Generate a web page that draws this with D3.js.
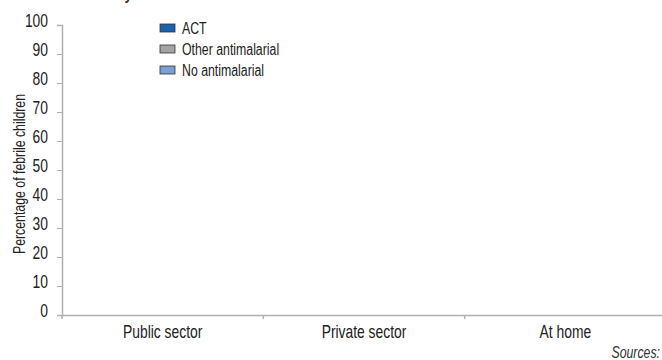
<!DOCTYPE html>
<html>
<head>
<meta charset="utf-8">
<script src="https://cdn.jsdelivr.net/npm/d3@7"></script>
<style>
  html, body { margin: 0; padding: 0; background: #fff; }
  svg { display: block; }
  text { font-family: "Liberation Sans", Arial, sans-serif; fill: #222; }
</style>
</head>
<body>
<svg id="chart" width="662" height="360"></svg>
<script>
// ---- data ----
const titleText = "Country D.R.";
const categories = ["Public sector", "Private sector", "At home"];
const seriesNames = ["ACT", "Other antimalarial", "No antimalarial"];
const seriesColors = ["#1a62ad", "#a3a3a3", "#7b9fd4"];
// No bars are visible in the reference: values are empty
const actValues = [null, null, null];
const otherValues = [null, null, null];
const noneValues = [null, null, null];
const yTicks = [0, 10, 20, 30, 40, 50, 60, 70, 80, 90, 100];
const yLabel = "Percentage of febrile children";
const sourceText = "Sources:";

const svg = d3.select("#chart");
const W = 662, H = 360;
const margin = { left: 62, right: -4, top: 25, bottom: 45 };
const SQ = 0.77; // horizontal squeeze to mimic the condensed face

function squeeze(sel, s) {
  sel.each(function () {
    const t = d3.select(this);
    const x = +t.attr("x") || 0;
    const tr = t.attr("transform");
    t.attr("x", x / s).attr("transform", (tr ? tr + " " : "") + `scale(${s},1)`);
  });
}

const x = d3.scaleBand().domain(categories).range([margin.left, W - margin.right]).paddingInner(0).paddingOuter(0);
const y = d3.scaleLinear().domain([0, 100]).range([H - margin.bottom, margin.top]);

// title (clipped at top)
svg.append("text").attr("x", 80).attr("y", 0)
  .style("font-weight", "bold").style("font-size", "16px").style("fill", "#333")
  .text(titleText).call(squeeze, 0.85);

// stacked bars (empty)
const rows = categories.map((c, i) => ({ cat: c, ACT: actValues[i] || 0, "Other antimalarial": otherValues[i] || 0, "No antimalarial": noneValues[i] || 0 }));
const stack = d3.stack().keys(seriesNames)(rows);
svg.append("g").selectAll("g").data(stack).join("g")
  .attr("fill", (d, i) => seriesColors[i])
  .selectAll("rect").data(d => d).join("rect")
  .attr("x", d => x(d.data.cat) + x.bandwidth() * 0.3)
  .attr("width", x.bandwidth() * 0.4)
  .attr("y", d => y(d[1]))
  .attr("height", d => y(d[0]) - y(d[1]));

// y axis
const yAxis = svg.append("g").attr("transform", `translate(${margin.left},0)`)
  .call(d3.axisLeft(y).tickValues(yTicks).tickSize(5).tickPadding(9).tickFormat(d3.format("d")));
yAxis.select(".domain").attr("stroke", "#b0b0b0").attr("stroke-width", 1.5);
yAxis.selectAll(".tick line").attr("stroke", "#b0b0b0");
yAxis.selectAll(".tick text").style("font-size", "18px").attr("dy", "0.1em").style("fill", "#222").call(squeeze, SQ);

// x axis
const xAxis = svg.append("g").attr("transform", `translate(0,${y(0)})`)
  .call(d3.axisBottom(x).tickSize(0).tickPadding(20));
xAxis.select(".domain").attr("stroke", "#b0b0b0").attr("stroke-width", 1.5);
xAxis.selectAll(".tick text").style("font-size", "18px").attr("dy", "0.15em").style("fill", "#222").call(squeeze, SQ);
// divider ticks between categories
const edges = categories.map(c => x(c));
xAxis.selectAll(".divtick").data(edges).join("line")
  .attr("x1", d => d).attr("x2", d => d).attr("y1", 0).attr("y2", 4)
  .attr("stroke", "#b0b0b0").attr("stroke-width", 1.5);

// y label
svg.append("text")
  .attr("transform", `translate(25,${(y(0) + y(100)) / 2 + 4}) rotate(-90)`)
  .attr("text-anchor", "middle").style("font-size", "16px")
  .text(yLabel).call(squeeze, SQ);

// legend
const legend = svg.append("g");
seriesNames.forEach((name, i) => {
  const g = legend.append("g").attr("transform", `translate(160,${24 + i * 21})`);
  g.append("rect").attr("width", 15).attr("height", 8).attr("fill", seriesColors[i]).attr("stroke", "#333").attr("stroke-width", 0.8);
  g.append("text").attr("x", 22).attr("y", 9.5).style("font-size", "16px").text(name).call(squeeze, SQ);
});

// sources
svg.append("text").attr("x", 660).attr("y", 358).attr("text-anchor", "end")
  .style("font-style", "italic").style("font-size", "16px").style("fill", "#333").text(sourceText).call(squeeze, SQ);
</script>
</body>
</html>
